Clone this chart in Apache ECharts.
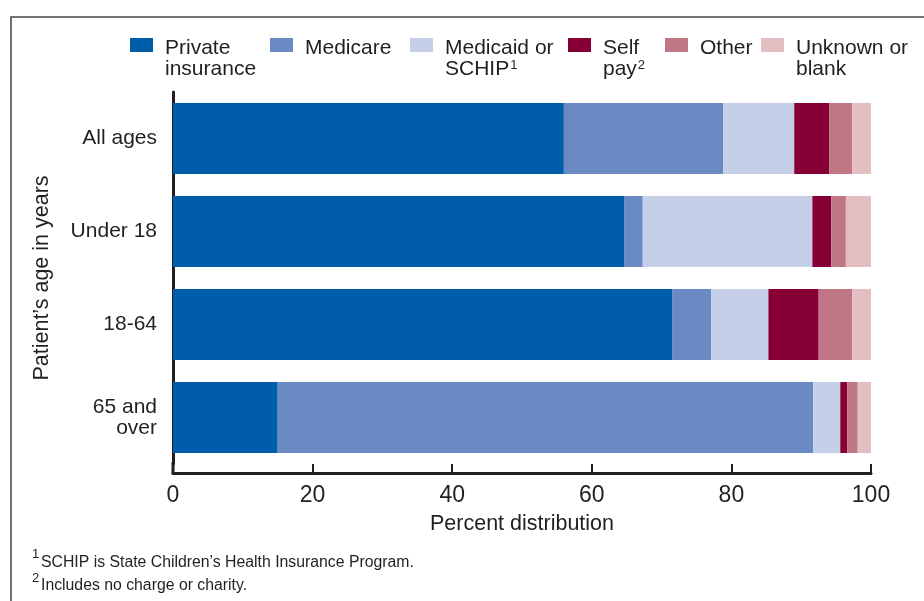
<!DOCTYPE html>
<html>
<head>
<meta charset="utf-8">
<script src="https://cdn.jsdelivr.net/npm/echarts@6/dist/echarts.min.js"></script>
<style>
  html, body { margin: 0; padding: 0; background: #fff; }
  #chart { width: 924px; height: 601px; }
</style>
</head>
<body>
<div id="chart"></div>
<script>
// age groups (top to bottom)
var ageGroups = ['All ages', 'Under 18', '18-64', '65 and\nover'];
var xTicks = [0, 20, 40, 60, 80, 100];

// percent distribution by payer
var privateIns = [56.0, 64.7, 71.5, 15.0];
var medicare   = [22.8,  2.6,  5.6, 76.7];
var medicaid   = [10.2, 24.3,  8.2,  3.9];
var selfPay    = [ 5.0,  2.7,  7.2,  1.0];
var other      = [ 3.3,  2.1,  4.8,  1.5];
var unknown    = [ 2.7,  3.6,  2.7,  1.9];

var seriesNames = ['Private insurance', 'Medicare', 'Medicaid or SCHIP', 'Self pay', 'Other', 'Unknown or blank'];
var seriesData = [privateIns, medicare, medicaid, selfPay, other, unknown];
var colors = ['#005da9', '#6a8ac3', '#c5cfe7', '#870035', '#bf7785', '#e3bfc3'];

var ink = '#231f20';
var font = 'Liberation Sans, Arial, Helvetica, sans-serif';

var myChart = echarts.init(document.getElementById('chart'));

// one legend per item so they can sit like the original
var legendSpots = [
  { left: 130, top: 10.5, two: true,  fmt: 'Private\ninsurance' },
  { left: 270, top: 31.5, two: false, fmt: 'Medicare' },
  { left: 410, top: 10.5, two: true,  fmt: 'Medicaid or\nSCHIP{sup|1}' },
  { left: 568, top: 10.5, two: true,  fmt: 'Self\npay{sup|2}' },
  { left: 665, top: 31.5, two: false, fmt: 'Other' },
  { left: 761, top: 10.5, two: true,  fmt: 'Unknown or\nblank' }
];
var legends = legendSpots.map(function (s, i) {
  return {
    left: s.left,
    top: s.top,
    padding: 0,
    selectedMode: false,
    icon: 'rect',
    itemWidth: 23,
    itemHeight: 14,
    data: [seriesNames[i]],
    formatter: function () { return s.fmt; },
    textStyle: {
      fontFamily: font,
      fontSize: 21,
      lineHeight: 21,
      color: ink,
      padding: s.two ? [27, 0, 0, 7] : [6, 0, 0, 7],
      rich: {
        sup: { fontSize: 13, fontFamily: font, color: ink, lineHeight: 21, padding: [0, 0, 8, 1] }
      }
    }
  };
});

var option = {
  backgroundColor: '#fff',
  animation: false,
  legend: legends,
  grid: { left: 173, right: 53, top: 92, bottom: 137 },
  xAxis: {
    type: 'value',
    min: 0,
    max: 100,
    interval: 20,
    offset: 9,
    name: 'Percent distribution',
    nameLocation: 'middle',
    nameGap: 40,
    nameTextStyle: { fontFamily: font, fontSize: 21.5, color: ink },
    axisLine: { show: true, lineStyle: { color: ink, width: 3 } },
    axisTick: { show: true, inside: true, length: 9, lineStyle: { color: ink, width: 2 } },
    axisLabel: {
      color: ink, fontFamily: font, fontSize: 23, margin: 11,
      formatter: function (v) { return xTicks.indexOf(v) >= 0 ? String(v) : ''; }
    },
    splitLine: { show: false }
  },
  yAxis: {
    type: 'category',
    inverse: true,
    data: ageGroups,
    name: 'Patient\u2019s age in years',
    nameLocation: 'middle',
    nameGap: 120,
    nameTextStyle: { fontFamily: font, fontSize: 21.5, color: ink },
    axisLine: { show: true, lineStyle: { color: ink, width: 3 } },
    axisTick: { show: false },
    axisLabel: { color: ink, fontFamily: font, fontSize: 21, lineHeight: 21, margin: 16, align: 'right', padding: [8, 0, 0, 0] }
  },
  series: seriesData.map(function (d, i) {
    return {
      name: seriesNames[i],
      type: 'bar',
      stack: 'total',
      barWidth: 71,
      data: d,
      itemStyle: { color: colors[i] }
    };
  }),
  title: [
    { left: 32, top: 548, padding: 0, text: '1', textStyle: { fontFamily: font, fontSize: 13, fontWeight: 'normal', color: ink } },
    { left: 41, top: 555, padding: 0, text: 'SCHIP is State Children\u2019s Health Insurance Program.', textStyle: { fontFamily: font, fontSize: 15.8, fontWeight: 'normal', color: ink } },
    { left: 32, top: 572, padding: 0, text: '2', textStyle: { fontFamily: font, fontSize: 13, fontWeight: 'normal', color: ink } },
    { left: 41, top: 578, padding: 0, text: 'Includes no charge or charity.', textStyle: { fontFamily: font, fontSize: 15.8, fontWeight: 'normal', color: ink } }
  ],
  graphic: [
    // outer frame
    { type: 'rect', left: 8.5, top: 14.5, silent: true,
      shape: { width: 940, height: 620 },
      style: { fill: 'none', stroke: '#444', lineWidth: 1.5 } },
    // join the y axis line down to the offset x axis
    { type: 'rect', left: 171.5, top: 462, silent: true,
      shape: { width: 3, height: 12 },
      style: { fill: ink } }
  ]
};

option && myChart.setOption(option);
</script>
</body>
</html>
